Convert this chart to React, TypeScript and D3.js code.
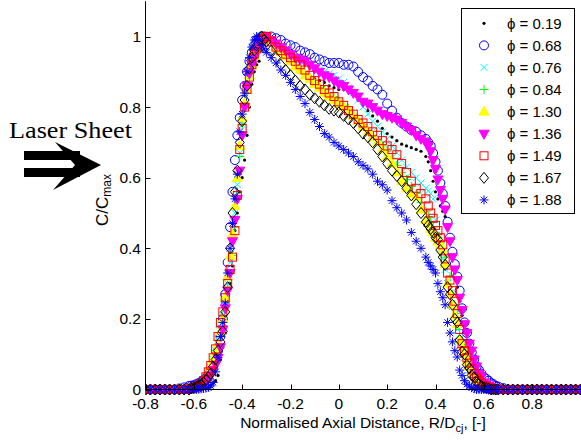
import React from "react";
import * as d3 from "d3";

// Sample positions (normalised axial distance R/Dcj); finer on the steep edges
const xs = [
  -0.8, -0.78, -0.76, -0.74, -0.72, -0.7, -0.68, -0.66, -0.64, -0.62,
  -0.61, -0.6, -0.59, -0.58, -0.57, -0.56, -0.55, -0.54, -0.53, -0.52, -0.51, -0.5, -0.49, -0.48, -0.47, -0.46,
  -0.45, -0.44, -0.43, -0.42, -0.41, -0.4, -0.39, -0.38, -0.37, -0.36, -0.35, -0.34, -0.33, -0.32, -0.31, -0.3,
  -0.28, -0.26, -0.24, -0.22, -0.2, -0.18, -0.16, -0.14, -0.12, -0.1, -0.08, -0.06, -0.04, -0.02, 0,
  0.02, 0.04, 0.06, 0.08, 0.1, 0.12, 0.14, 0.16, 0.18, 0.2, 0.22, 0.24, 0.26, 0.28, 0.3, 0.32, 0.34, 0.36,
  0.37, 0.38, 0.39, 0.4, 0.41, 0.42, 0.43, 0.44, 0.45, 0.46, 0.47, 0.48, 0.49, 0.5, 0.51,
  0.52, 0.53, 0.54, 0.55, 0.56, 0.57, 0.58, 0.59, 0.6, 0.61, 0.62, 0.63, 0.64, 0.65, 0.66,
  0.68, 0.7, 0.72, 0.74, 0.76, 0.78, 0.8, 0.82, 0.84, 0.86, 0.88, 0.9, 0.92, 0.94, 0.96, 0.98, 1.0,
];

const phi019 = [
  0, 0, 0, 0, 0, 0, 0, 0, 0, 0,
  0, 0, 0, 0, 0.002, 0.003, 0.005, 0.008, 0.012, 0.018, 0.025, 0.04, 0.085, 0.12, 0.16, 0.25,
  0.3, 0.35, 0.45, 0.5, 0.56, 0.6, 0.65, 0.72, 0.8, 0.865, 0.9, 0.92, 0.93, 0.96, 0.98, 0.99,
  0.98, 0.97, 0.96, 0.95, 0.935, 0.925, 0.915, 0.9, 0.89, 0.88, 0.875, 0.87, 0.86, 0.855, 0.85,
  0.85, 0.845, 0.835, 0.82, 0.805, 0.79, 0.775, 0.76, 0.74, 0.725, 0.715, 0.705, 0.695, 0.69, 0.685, 0.68, 0.675, 0.66,
  0.645, 0.62, 0.59, 0.56, 0.54, 0.52, 0.505, 0.49, 0.46, 0.42, 0.375, 0.33, 0.29, 0.25, 0.21,
  0.17, 0.14, 0.11, 0.085, 0.06, 0.045, 0.03, 0.02, 0.012, 0.008, 0.004, 0.002, 0, 0, 0,
  0, 0, 0, 0, 0, 0, 0, 0, 0, 0, 0, 0, 0, 0, 0, 0, 0,
];

const phi068 = [
  0, 0, 0, 0, 0, 0, 0, 0.003, 0.006, 0.01,
  0.011, 0.012, 0.015, 0.018, 0.022, 0.027, 0.033, 0.04, 0.048, 0.06, 0.08, 0.11, 0.15, 0.2, 0.27, 0.36,
  0.46, 0.56, 0.65, 0.72, 0.77, 0.82, 0.86, 0.9, 0.93, 0.955, 0.975, 0.99, 0.995, 1.0, 1.0, 1.0,
  1.0, 0.995, 0.99, 0.98, 0.975, 0.97, 0.96, 0.955, 0.95, 0.94, 0.935, 0.93, 0.925, 0.925, 0.925,
  0.92, 0.92, 0.915, 0.9, 0.885, 0.875, 0.86, 0.85, 0.835, 0.81, 0.79, 0.77, 0.755, 0.745, 0.735, 0.73, 0.72, 0.71,
  0.7, 0.69, 0.67, 0.645, 0.62, 0.585, 0.555, 0.52, 0.475, 0.43, 0.39, 0.355, 0.32, 0.28, 0.23,
  0.19, 0.16, 0.13, 0.105, 0.085, 0.065, 0.055, 0.045, 0.035, 0.03, 0.025, 0.018, 0.015, 0.01, 0.008,
  0.004, 0, 0, 0, 0, 0, 0, 0, 0, 0, 0, 0, 0, 0, 0, 0, 0,
];

const phi076 = [
  0, 0, 0, 0, 0, 0, 0, 0, 0, 0,
  0.003, 0.005, 0.007, 0.01, 0.015, 0.022, 0.032, 0.045, 0.062, 0.085, 0.11, 0.14, 0.175, 0.21, 0.255, 0.3,
  0.36, 0.42, 0.5, 0.58, 0.67, 0.75, 0.8, 0.85, 0.89, 0.92, 0.95, 0.97, 0.985, 0.995, 1.0, 1.0,
  0.99, 0.98, 0.97, 0.96, 0.95, 0.94, 0.935, 0.93, 0.92, 0.91, 0.905, 0.9, 0.895, 0.89, 0.88,
  0.87, 0.855, 0.84, 0.82, 0.8, 0.78, 0.76, 0.745, 0.73, 0.71, 0.69, 0.67, 0.65, 0.63, 0.615, 0.6, 0.585, 0.57,
  0.562, 0.555, 0.54, 0.48, 0.425, 0.4, 0.37, 0.34, 0.3, 0.27, 0.235, 0.2, 0.17, 0.14, 0.115,
  0.09, 0.07, 0.055, 0.042, 0.03, 0.022, 0.015, 0.01, 0.006, 0.003, 0, 0, 0, 0, 0,
  0, 0, 0, 0, 0, 0, 0, 0, 0, 0, 0, 0, 0, 0, 0, 0, 0,
];

const phi084 = [
  0, 0, 0, 0, 0, 0, 0, 0, 0, 0,
  0.003, 0.005, 0.007, 0.01, 0.015, 0.02, 0.03, 0.04, 0.058, 0.08, 0.11, 0.14, 0.175, 0.21, 0.25, 0.29,
  0.33, 0.38, 0.46, 0.56, 0.66, 0.75, 0.8, 0.84, 0.88, 0.92, 0.945, 0.965, 0.98, 0.99, 0.995, 1.0,
  0.985, 0.975, 0.96, 0.95, 0.935, 0.92, 0.91, 0.9, 0.885, 0.87, 0.86, 0.85, 0.84, 0.83, 0.82,
  0.805, 0.795, 0.78, 0.765, 0.75, 0.735, 0.72, 0.705, 0.69, 0.675, 0.655, 0.635, 0.615, 0.595, 0.575, 0.555, 0.53, 0.505,
  0.49, 0.475, 0.46, 0.445, 0.43, 0.415, 0.4, 0.375, 0.35, 0.32, 0.27, 0.24, 0.215, 0.17, 0.14,
  0.115, 0.095, 0.075, 0.06, 0.045, 0.035, 0.025, 0.018, 0.012, 0.008, 0.005, 0.003, 0, 0, 0,
  0, 0, 0, 0, 0, 0, 0, 0, 0, 0, 0, 0, 0, 0, 0, 0, 0,
];

const phi130 = [
  0, 0, 0, 0, 0, 0, 0, 0, 0, 0,
  0.002, 0.004, 0.007, 0.01, 0.015, 0.02, 0.03, 0.045, 0.065, 0.085, 0.105, 0.13, 0.165, 0.2, 0.26, 0.32,
  0.38, 0.44, 0.52, 0.6, 0.69, 0.77, 0.81, 0.85, 0.89, 0.92, 0.945, 0.965, 0.98, 0.99, 0.995, 1.0,
  0.985, 0.97, 0.955, 0.945, 0.93, 0.915, 0.905, 0.89, 0.88, 0.865, 0.855, 0.84, 0.83, 0.82, 0.81,
  0.8, 0.79, 0.775, 0.76, 0.745, 0.73, 0.715, 0.7, 0.68, 0.66, 0.64, 0.615, 0.59, 0.57, 0.555, 0.545, 0.51, 0.48,
  0.47, 0.455, 0.445, 0.43, 0.42, 0.41, 0.395, 0.355, 0.3, 0.27, 0.24, 0.21, 0.185, 0.14, 0.12,
  0.1, 0.08, 0.065, 0.05, 0.035, 0.025, 0.018, 0.012, 0.007, 0.004, 0.002, 0, 0, 0, 0,
  0, 0, 0, 0, 0, 0, 0, 0, 0, 0, 0, 0, 0, 0, 0, 0, 0,
];

const phi136 = [
  0, 0, 0, 0, 0, 0, 0, 0, 0, 0,
  0.003, 0.005, 0.007, 0.01, 0.014, 0.018, 0.024, 0.03, 0.04, 0.055, 0.07, 0.09, 0.12, 0.17, 0.23, 0.28,
  0.33, 0.42, 0.48, 0.54, 0.62, 0.72, 0.8, 0.86, 0.895, 0.92, 0.94, 0.96, 0.975, 0.99, 0.995, 1.0,
  0.99, 0.98, 0.97, 0.96, 0.95, 0.94, 0.935, 0.93, 0.92, 0.91, 0.9, 0.89, 0.885, 0.875, 0.865,
  0.86, 0.85, 0.84, 0.83, 0.815, 0.81, 0.8, 0.79, 0.78, 0.775, 0.77, 0.765, 0.755, 0.745, 0.735, 0.72, 0.71, 0.7,
  0.69, 0.675, 0.65, 0.625, 0.595, 0.565, 0.54, 0.51, 0.46, 0.42, 0.375, 0.34, 0.31, 0.26, 0.225,
  0.185, 0.16, 0.13, 0.11, 0.085, 0.065, 0.045, 0.036, 0.02, 0.015, 0.01, 0.007, 0.005, 0.003, 0,
  0, 0, 0, 0, 0, 0, 0, 0, 0, 0, 0, 0, 0, 0, 0, 0, 0,
];

const phi149 = [
  0, 0, 0, 0, 0, 0, 0, 0, 0, 0.002,
  0.004, 0.005, 0.007, 0.01, 0.016, 0.025, 0.036, 0.05, 0.068, 0.09, 0.115, 0.15, 0.19, 0.22, 0.26, 0.3,
  0.34, 0.375, 0.45, 0.55, 0.68, 0.74, 0.8, 0.85, 0.885, 0.92, 0.95, 0.965, 0.98, 0.99, 0.995, 1.0,
  0.985, 0.97, 0.96, 0.95, 0.94, 0.93, 0.92, 0.905, 0.89, 0.875, 0.865, 0.85, 0.84, 0.83, 0.815,
  0.805, 0.79, 0.78, 0.765, 0.755, 0.745, 0.73, 0.72, 0.705, 0.69, 0.68, 0.665, 0.64, 0.615, 0.59, 0.57, 0.555, 0.54,
  0.52, 0.5, 0.485, 0.465, 0.45, 0.43, 0.41, 0.37, 0.33, 0.31, 0.28, 0.25, 0.215, 0.17, 0.13,
  0.11, 0.09, 0.075, 0.058, 0.045, 0.032, 0.025, 0.018, 0.012, 0.008, 0.005, 0.003, 0, 0, 0,
  0, 0, 0, 0, 0, 0, 0, 0, 0, 0, 0, 0, 0, 0, 0, 0, 0,
];

const phi167 = [
  0, 0, 0, 0, 0, 0, 0, 0, 0, 0,
  0.003, 0.005, 0.008, 0.012, 0.016, 0.02, 0.027, 0.035, 0.045, 0.065, 0.085, 0.11, 0.135, 0.165, 0.22, 0.29,
  0.4, 0.5, 0.56, 0.62, 0.7, 0.76, 0.82, 0.86, 0.91, 0.94, 0.96, 0.975, 0.99, 1.0, 0.99, 0.985,
  0.96, 0.94, 0.92, 0.905, 0.89, 0.875, 0.86, 0.85, 0.835, 0.825, 0.815, 0.805, 0.795, 0.79, 0.785,
  0.775, 0.765, 0.755, 0.74, 0.725, 0.715, 0.7, 0.68, 0.66, 0.64, 0.62, 0.605, 0.59, 0.57, 0.55, 0.525, 0.5, 0.475,
  0.465, 0.455, 0.445, 0.43, 0.425, 0.395, 0.375, 0.353, 0.29, 0.27, 0.24, 0.2, 0.19, 0.14, 0.107,
  0.1, 0.07, 0.06, 0.04, 0.035, 0.02, 0.015, 0.01, 0.006, 0.004, 0.002, 0, 0, 0, 0,
  0, 0, 0, 0, 0, 0, 0, 0, 0, 0, 0, 0, 0, 0, 0, 0, 0,
];

const phi188 = [
  0, 0, 0, 0, 0, 0, 0, 0, 0, 0,
  0, 0, 0, 0.001, 0.002, 0.003, 0.004, 0.006, 0.01, 0.02, 0.05, 0.09, 0.15, 0.19, 0.245, 0.33,
  0.4, 0.47, 0.54, 0.61, 0.73, 0.78, 0.84, 0.9, 0.94, 0.97, 0.99, 1.0, 0.99, 0.975, 0.965, 0.955,
  0.94, 0.925, 0.905, 0.89, 0.87, 0.85, 0.83, 0.81, 0.785, 0.765, 0.745, 0.725, 0.715, 0.7, 0.69,
  0.68, 0.67, 0.66, 0.645, 0.635, 0.625, 0.61, 0.59, 0.58, 0.565, 0.535, 0.515, 0.5, 0.48, 0.445, 0.42, 0.4, 0.375,
  0.36, 0.35, 0.34, 0.33, 0.3, 0.277, 0.26, 0.24, 0.19, 0.16, 0.135, 0.11, 0.092, 0.055, 0.04,
  0.025, 0.015, 0.01, 0.005, 0.002, 0, 0, 0, 0, 0, 0, 0, 0, 0, 0,
  0, 0, 0, 0, 0, 0, 0, 0, 0, 0, 0, 0, 0, 0, 0, 0, 0,
];

const seriesLabels = ["0.19", "0.68", "0.76", "0.84", "1.30", "1.36", "1.49", "1.67", "1.88"];
const seriesValues = [phi019, phi068, phi076, phi084, phi130, phi136, phi149, phi167, phi188];
const seriesMarkers = ["dot", "circle", "x", "plus", "tri", "tridown", "square", "diamond", "star"];
const seriesColors = ["#000000", "#0000ff", "#00ffff", "#00ff00", "#ffff00", "#ff00ff", "#ff0000", "#000000", "#0000ff"];

const xTickValues = [-0.8, -0.6, -0.4, -0.2, 0, 0.2, 0.4, 0.6, 0.8];
const xTickLabels = ["-0.8", "-0.6", "-0.4", "-0.2", "0", "0.2", "0.4", "0.6", "0.8"];
const yTickValues = [0, 0.2, 0.4, 0.6, 0.8, 1];
const yTickLabels = ["0", "0.2", "0.4", "0.6", "0.8", "1"];

const FONT = "'Liberation Sans', Arial, Helvetica, sans-serif";

function Marker({ type, color, cx, cy }: { type: string; color: string; cx: number; cy: number }) {
  const t = `translate(${cx},${cy})`;
  switch (type) {
    case "dot":
      return <circle cx={cx} cy={cy} r={1.6} fill={color} />;
    case "circle":
      return <circle cx={cx} cy={cy} r={4.5} fill="none" stroke={color} strokeWidth={1} />;
    case "x":
      return <path transform={t} d="M-3.5,-3.5L3.5,3.5M-3.5,3.5L3.5,-3.5" stroke={color} strokeWidth={1} fill="none" />;
    case "plus":
      return <path transform={t} d="M-4.5,0H4.5M0,-4.5V4.5" stroke={color} strokeWidth={1} fill="none" />;
    case "tri":
      return <path transform={t} d="M0,-5.5L5,3.5L-5,3.5Z" fill={color} stroke={color} strokeWidth={1} />;
    case "tridown":
      return <path transform={t} d="M0,5.5L5,-3.5L-5,-3.5Z" fill={color} stroke={color} strokeWidth={1} />;
    case "square":
      return <rect x={cx - 4} y={cy - 4} width={8} height={8} fill="none" stroke={color} strokeWidth={1} />;
    case "diamond":
      return <path transform={t} d="M0,-5.5L4.5,0L0,5.5L-4.5,0Z" fill="none" stroke={color} strokeWidth={1} />;
    case "star":
      return (
        <path
          transform={t}
          d="M-4.5,0H4.5M0,-4.5V4.5M-3.2,-3.2L3.2,3.2M-3.2,3.2L3.2,-3.2"
          stroke={color}
          strokeWidth={1}
          fill="none"
        />
      );
    default:
      return null;
  }
}

export default function App() {
  const W = 581;
  const H = 441;
  const x = d3.scaleLinear().domain([-0.8, 1.0]).range([145.5, 580.5]);
  const y = d3.scaleLinear().domain([0, 1.1]).range([389.5, 1.2]);
  const x0 = x(-0.8);
  const y0 = y(0);

  return (
    <div style={{ position: "absolute", left: 0, top: 0 }}>
      <svg width={W} height={H} style={{ display: "block", background: "#fff" }} fontFamily={FONT}>
        <defs>
          <clipPath id="plotclip">
            <rect x={x0} y={0} width={W - x0} height={H} />
          </clipPath>
        </defs>
        <rect x={0} y={0} width={W} height={H} fill="#fff" />

        {/* data markers */}
        <g clipPath="url(#plotclip)">
          {seriesValues.map((vals, si) => (
            <g key={si}>
              {vals.map((v, i) => (
                <Marker key={i} type={seriesMarkers[si]} color={seriesColors[si]} cx={x(xs[i])} cy={y(v)} />
              ))}
            </g>
          ))}
        </g>

        {/* axes */}
        <line x1={x0} x2={x0} y1={y(1.1)} y2={y0} stroke="#000" strokeWidth={1} />
        <line x1={x0} x2={W} y1={y0} y2={y0} stroke="#000" strokeWidth={1} />
        {xTickValues.map((v, i) => (
          <g key={"xt" + i}>
            <line x1={Math.round(x(v)) + 0.5} x2={Math.round(x(v)) + 0.5} y1={y0} y2={y0 - 5} stroke="#000" strokeWidth={1} />
            <text x={x(v)} y={409} fontSize={15.5} textAnchor="middle" fill="#000">
              {xTickLabels[i]}
            </text>
          </g>
        ))}
        {yTickValues.map((v, i) => (
          <g key={"yt" + i}>
            <line x1={x0} x2={x0 + 5} y1={Math.round(y(v)) + 0.5} y2={Math.round(y(v)) + 0.5} stroke="#000" strokeWidth={1} />
            <text x={141} y={y(v)} dy="0.36em" fontSize={15.5} textAnchor="end" fill="#000">
              {yTickLabels[i]}
            </text>
          </g>
        ))}

        {/* axis labels */}
        <text x={363} y={428} fontSize={15.5} textAnchor="middle" fill="#000">
          <tspan>Normalised Axial Distance, R/D</tspan>
          <tspan dy={4} fontSize={11}>cj</tspan>
          <tspan dy={-4}>, [-]</tspan>
        </text>
        <text transform="translate(108,200) rotate(-90)" fontSize={17} textAnchor="middle" fill="#000">
          <tspan>C/C</tspan>
          <tspan dy={3} fontSize={12}>max</tspan>
        </text>

        {/* legend */}
        <rect x={461.5} y={8.5} width={113} height={205} fill="#fff" stroke="#000" strokeWidth={1} />
        {seriesLabels.map((lab, i) => {
          const ly = 23.3 + i * 22.08;
          return (
            <g key={"lg" + i}>
              <Marker type={seriesMarkers[i]} color={seriesColors[i]} cx={484} cy={ly} />
              <text x={507} y={ly} dy="0.36em" fontSize={15} fill="#000">
                {"\u03D5 = " + lab}
              </text>
            </g>
          );
        })}

        {/* Laser sheet annotation */}
        <text x={9} y={138} fontSize={23.5} fontFamily="'Liberation Serif', 'Times New Roman', serif" textLength={123} lengthAdjust="spacingAndGlyphs" fill="#000">
          Laser Sheet
        </text>
        <rect x={24} y={151} width={56} height={9} fill="#000" />
        <rect x={24} y={168} width={56} height={9} fill="#000" />
        <path d="M55,142L101,165L53,190L75,165Z" fill="#000" />
      </svg>
    </div>
  );
}
